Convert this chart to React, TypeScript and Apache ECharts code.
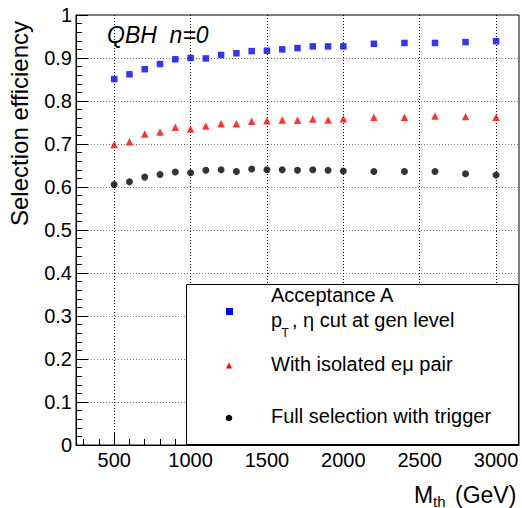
import React, { useEffect, useRef } from "react";
import * as echarts from "echarts";

const MASS = [500, 600, 700, 800, 900, 1000, 1100, 1200, 1300, 1400, 1500, 1600, 1700, 1800, 1900, 2000, 2200, 2400, 2600, 2800, 3000];
const ACCEPTANCE = [0.851, 0.862, 0.874, 0.886, 0.897, 0.900, 0.899, 0.907, 0.911, 0.916, 0.917, 0.920, 0.923, 0.927, 0.927, 0.927, 0.933, 0.935, 0.935, 0.937, 0.939];
const ISOLATED = [0.699, 0.705, 0.723, 0.728, 0.739, 0.735, 0.742, 0.747, 0.747, 0.753, 0.754, 0.756, 0.755, 0.758, 0.756, 0.759, 0.762, 0.762, 0.765, 0.764, 0.762];
const FULL = [0.606, 0.612, 0.623, 0.629, 0.635, 0.633, 0.639, 0.640, 0.636, 0.642, 0.640, 0.640, 0.639, 0.640, 0.639, 0.637, 0.636, 0.636, 0.636, 0.631, 0.628];

const X_MIN = 250;
const X_MAX = 3150;
const X_MAJOR = [500, 1000, 1500, 2000, 2500, 3000];
const X_MINOR = [300, 400, 600, 700, 800, 900, 1100, 1200, 1300, 1400, 1600, 1700, 1800, 1900, 2100, 2200, 2300, 2400, 2600, 2700, 2800, 2900, 3100];

const FONT = "Arial, Liberation Sans, sans-serif";

export default function App() {
  const ref = useRef<HTMLDivElement>(null);
  useEffect(() => {
    if (!ref.current) return;
    const chart = echarts.init(ref.current, undefined, { renderer: "svg" });
    const pair = (ys: number[]) => MASS.map((m, i) => [m, ys[i]]);
    const option: any = {
      animation: false,
      backgroundColor: "#fff",
      textStyle: { fontFamily: FONT },
      grid: {
        left: 76,
        right: 3,
        top: 15,
        bottom: 63,
        show: true,
        borderColor: "#000",
        borderWidth: 1,
        backgroundColor: "transparent",
      },
      xAxis: [
        {
          type: "value",
          min: X_MIN,
          max: X_MAX,
          axisLine: { show: true, onZero: false, lineStyle: { color: "#000", width: 1 } },
          axisTick: { show: true, inside: true, length: 12, customValues: X_MAJOR, lineStyle: { color: "#000" } },
          axisLabel: {
            customValues: X_MAJOR,
            fontSize: 20,
            color: "#000",
            fontFamily: FONT,
            margin: 5,
            formatter: (v: number) => String(v),
          },
          splitLine: { show: true, lineStyle: { color: "#000", type: [1, 2], width: 1 } },
        },
        {
          type: "value",
          min: X_MIN,
          max: X_MAX,
          position: "bottom",
          axisLine: { show: false, onZero: false },
          axisTick: { show: true, inside: true, length: 6, customValues: X_MINOR, lineStyle: { color: "#000" } },
          axisLabel: { show: false },
          splitLine: { show: false },
        },
      ],
      yAxis: {
        type: "value",
        min: 0,
        max: 1,
        interval: 0.1,
        axisLine: { show: true, lineStyle: { color: "#000", width: 1 } },
        axisTick: { show: true, inside: true, length: 12, lineStyle: { color: "#000" } },
        minorTick: { show: true, splitNumber: 5, length: 6, lineStyle: { color: "#000" } },
        axisLabel: { fontSize: 20, color: "#000", fontFamily: FONT, margin: 4, formatter: (v: number) => String(Math.round(v * 10) / 10) },
        splitLine: { show: true, lineStyle: { color: "#777", type: [1, 2], width: 1 } },
      },
      series: [
        {
          name: "Acceptance A",
          type: "scatter",
          symbol: "rect",
          symbolSize: 6.5,
          itemStyle: { color: "#0000ff" },
          data: pair(ACCEPTANCE),
        },
        {
          name: "With isolated eμ pair",
          type: "scatter",
          symbol: "triangle",
          symbolSize: 7.5,
          itemStyle: { color: "#ff0000" },
          data: pair(ISOLATED),
        },
        {
          name: "Full selection with trigger",
          type: "scatter",
          symbol: "circle",
          symbolSize: 7,
          itemStyle: { color: "#000000" },
          data: pair(FULL),
        },
      ],
      graphic: [
        {
          type: "text",
          x: 19.7,
          y: 123.5,
          rotation: Math.PI / 2,
          style: { text: "Selection efficiency", fontSize: 24, fontFamily: FONT, fill: "#000", align: "center", verticalAlign: "middle" },
        },
        {
          type: "text",
          x: 107,
          y: 35,
          style: { text: "QBH  n=0", fontSize: 23, fontStyle: "italic", fontFamily: FONT, fill: "#000", align: "left", verticalAlign: "middle" },
        },
        {
          type: "text",
          x: 414,
          y: 495.3,
          style: { text: "M", fontSize: 23, fontFamily: FONT, fill: "#000", align: "left", verticalAlign: "middle" },
        },
        {
          type: "text",
          x: 433,
          y: 501,
          style: { text: "th", fontSize: 15, fontFamily: FONT, fill: "#000", align: "left", verticalAlign: "middle" },
        },
        {
          type: "text",
          x: 455,
          y: 495.3,
          style: { text: "(GeV)", fontSize: 23, fontFamily: FONT, fill: "#000", align: "left", verticalAlign: "middle" },
        },
        {
          type: "group",
          z: 100,
          children: [
            {
              type: "rect",
              z: 100,
              shape: { x: 186.5, y: 284.5, width: 332, height: 160 },
              style: { fill: "#fff", stroke: "#000", lineWidth: 1 },
            },
            {
              type: "rect",
              z: 101,
              shape: { x: 226, y: 308, width: 7, height: 7 },
              style: { fill: "#0000ff" },
            },
            {
              type: "polygon",
              z: 101,
              shape: { points: [[229, 362.5], [232, 368.5], [226, 368.5]] },
              style: { fill: "#ff0000" },
            },
            {
              type: "circle",
              z: 101,
              shape: { cx: 229, cy: 418, r: 3.3 },
              style: { fill: "#000" },
            },
            {
              type: "text",
              z: 101,
              x: 271,
              y: 295.4,
              style: { text: "Acceptance A", fontSize: 20, fontFamily: FONT, fill: "#000", align: "left", verticalAlign: "middle" },
            },
            {
              type: "text",
              z: 101,
              x: 271,
              y: 319.8,
              style: { text: "p", fontSize: 20, fontFamily: FONT, fill: "#000", align: "left", verticalAlign: "middle" },
            },
            {
              type: "text",
              z: 101,
              x: 281.5,
              y: 333,
              style: { text: "T", fontSize: 12, fontFamily: FONT, fill: "#000", align: "left", verticalAlign: "middle" },
            },
            {
              type: "text",
              z: 101,
              x: 292,
              y: 319.8,
              style: { text: ", η cut at gen level", fontSize: 20, fontFamily: FONT, fill: "#000", align: "left", verticalAlign: "middle" },
            },
            {
              type: "text",
              z: 101,
              x: 271,
              y: 364,
              style: { text: "With isolated eμ pair", fontSize: 20, fontFamily: FONT, fill: "#000", align: "left", verticalAlign: "middle" },
            },
            {
              type: "text",
              z: 101,
              x: 271,
              y: 416.4,
              style: { text: "Full selection with trigger", fontSize: 20, fontFamily: FONT, fill: "#000", align: "left", verticalAlign: "middle" },
            },
          ],
        },
      ],
    };
    chart.setOption(option);
    return () => chart.dispose();
  }, []);
  return <div ref={ref} style={{ position: "absolute", left: 0, top: 0, width: 522, height: 508 }} />;
}
